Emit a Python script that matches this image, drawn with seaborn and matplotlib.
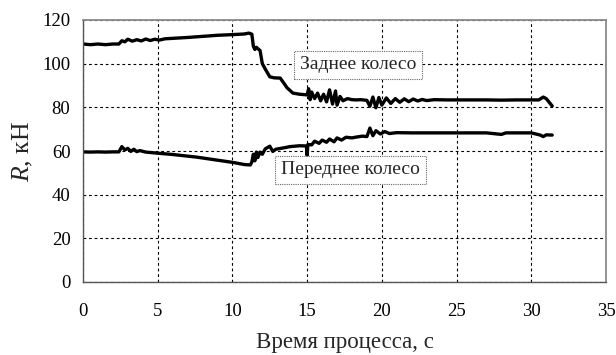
import matplotlib
matplotlib.use("Agg")
import matplotlib.pyplot as plt
import seaborn as sns
import pandas as pd

# Заднее колесо
t_rear = [0, 0.5, 1.0, 1.5, 2.0, 2.4, 2.6, 2.8, 3.0, 3.3, 3.6, 3.9, 4.2, 4.5, 4.8, 5.1,
          5.5, 6.0, 7.0, 8.0, 9.0, 10.0, 10.8, 11.1, 11.3, 11.4, 11.5, 11.6, 11.85, 12.0,
          12.2, 12.5, 12.8, 13.2, 13.45, 13.65, 14.05, 14.5, 15.0, 15.1, 15.2, 15.3, 15.5,
          15.7, 15.9, 16.1, 16.3, 16.5, 16.7, 16.9, 17.0, 17.2, 17.4, 17.7, 18.0, 18.3,
          18.6, 19.0, 19.2, 19.4, 19.6, 19.8, 20.0, 20.3, 20.6, 20.9, 21.2, 21.5, 21.8,
          22.1, 22.4, 22.7, 23.0, 23.5, 24.4, 25, 26, 27, 28, 29, 30, 30.5, 30.8, 31.0, 31.4]
r_rear = [109, 108.7, 109, 108.7, 109, 109, 110.5, 110, 111.2, 110.3, 111, 110.4, 111.3, 110.6, 111.2, 110.8,
          111.4, 111.6, 112, 112.5, 113, 113.3, 113.6, 114, 113.5, 108, 106.5, 107.5, 106, 100,
          97.5, 94, 93.5, 93.4, 91, 89, 86.5, 86, 85.7, 88.5, 83.5, 87, 84, 86.5,
          83, 86, 82.5, 88, 81.5, 87.5, 81, 85, 83, 84, 83.5, 83.4,
          83.5, 83.2, 80.5, 84.7, 79.8, 84.5, 81, 84.3, 81.8, 84, 82.3, 83.9, 82.6,
          83.8, 82.9, 83.6, 83.1, 83.5, 83.4, 83.4, 83.4, 83.4, 83.3, 83.4, 83.4, 83.4, 84.7, 84, 80.6]

# Переднее колесо
t_front = [0, 0.5, 1.0, 1.5, 2.0, 2.4, 2.6, 2.8, 3.0, 3.2, 3.4, 3.6, 3.8, 4.2, 5.0, 6.0, 7.6,
           9.0, 10.0, 10.8, 11.2, 11.3, 11.4, 11.5, 11.6, 11.7, 11.85, 12.0, 12.2, 12.5, 12.7,
           12.9, 13.4, 13.85, 14.5, 14.95, 15.0, 15.05, 15.3, 15.5, 15.8, 16.0, 16.3, 16.5,
           16.8, 17.0, 17.3, 17.6, 18.0, 18.3, 18.7, 19.0, 19.2, 19.4, 19.6, 19.9, 20.2,
           20.5, 21, 22, 23, 24, 25, 26, 27, 28, 28.3, 29, 30, 30.6, 30.8, 31.0, 31.4]
r_front = [59.6, 59.5, 59.6, 59.5, 59.6, 59.6, 62, 60.5, 61.2, 59.8, 60.8, 59.7, 60.2, 59.5, 59, 58.4, 57.2,
           55.8, 54.8, 53.8, 53.6, 55, 58.5, 55.5, 59.5, 57, 59.5, 58.5, 61, 62.2, 59.8,
           60.8, 61.4, 62, 62.4, 62.3, 58, 63, 62.8, 64.5, 63.5, 65, 64, 65.5,
           64.2, 66, 65, 66.3, 66, 66.4, 66.8, 66.6, 70.5, 67, 69.3, 67.8, 68.9,
           68, 68.4, 68.3, 68.3, 68.3, 68.3, 68.3, 68.3, 67.6, 68.3, 68.3, 68.3, 67.3, 66.6, 67.4, 67.3]

x_ticks = [0, 5, 10, 15, 20, 25, 30, 35]
y_ticks = [0, 20, 40, 60, 80, 100, 120]

df = pd.concat([
    pd.DataFrame({"t": t_rear, "R": r_rear, "wheel": "Заднее колесо"}),
    pd.DataFrame({"t": t_front, "R": r_front, "wheel": "Переднее колесо"}),
])

sns.set_style("white")
plt.rcParams["font.family"] = ["Liberation Serif", "DejaVu Serif"]
plt.rcParams["mathtext.fontset"] = "custom"
plt.rcParams["mathtext.rm"] = "Liberation Serif"
plt.rcParams["mathtext.it"] = "Liberation Serif:italic"

fig = plt.figure(figsize=(6.16, 3.55), dpi=100)
ax = fig.add_axes([83 / 616, 1 - 282 / 355, (606 - 83) / 616, (282 - 20) / 355])

sns.lineplot(data=df, x="t", y="R", hue="wheel", units="wheel", estimator=None, sort=False,
             palette=["black", "black"], linewidth=2.4, legend=False, ax=ax)

ax.set_xlim(0, 35)
ax.set_ylim(0, 120)
ax.set_xticks(x_ticks)
ax.set_yticks(y_ticks)
ax.grid(True, color="black", linestyle=(0, (2.5, 2.5)), linewidth=0.8)
ax.tick_params(axis="both", direction="out", length=5, width=1, colors="#444444",
               labelsize=13.5, labelcolor="black")
ax.tick_params(axis="x", pad=10)
ax.tick_params(axis="y", pad=4)
for side in ["left", "bottom"]:
    ax.spines[side].set_color("#555555")
    ax.spines[side].set_linewidth(1)
for side in ["top", "right"]:
    ax.spines[side].set_color("#8a8a8a")
    ax.spines[side].set_linewidth(1.3)

ax.set_xlabel("Время процесса, с", fontsize=16.5, labelpad=9)
ax.set_ylabel("$\\mathit{R}$, кН", fontsize=18.5, labelpad=5)

box = dict(boxstyle="square,pad=0.3", facecolor="white", edgecolor="#666666",
           linestyle=(0, (1, 1)), linewidth=0.8)
ax.text(18.4, 99.4, "Заднее колесо", fontsize=14, ha="center", va="center", bbox=box)
ax.text(17.9, 51.3, "Переднее колесо", fontsize=14, ha="center", va="center", bbox=box)

fig.savefig("out.png", dpi=100)
